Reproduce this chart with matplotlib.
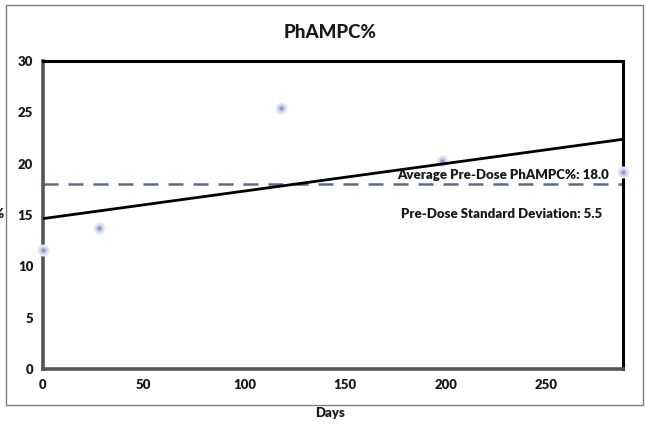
import numpy as np
import matplotlib
matplotlib.use("Agg")
import matplotlib.pyplot as plt
from matplotlib.patches import Rectangle

plt.rcParams['font.family'] = ['Lato', 'DejaVu Sans']

# Measurements
days = [0, 28, 118, 198, 288]
phampc = [11.6, 13.7, 25.4, 20.3, 19.2]
x_ticks = [0, 50, 100, 150, 200, 250]
y_ticks = [0, 5, 10, 15, 20, 25, 30]
avg_pre_dose = 18.0
sd_pre_dose = 5.5

W, H = 646, 426
fig = plt.figure(figsize=(W / 100, H / 100), dpi=100)
fig.patch.set_facecolor('white')

# outer chart frame
fig.patches.append(Rectangle((6 / W, 1 - 405 / H), (643 - 6) / W, (405 - 5) / H,
                             transform=fig.transFigure, fill=False,
                             edgecolor='#7f7f7f', linewidth=1.0))

ax = fig.add_axes([43 / W, 1 - 369 / H, (623 - 43) / W, (369 - 61) / H])
ax.set_xlim(0, max(days))
ax.set_ylim(0, 30)

# scatter points with soft glow
ax.scatter(days, phampc, s=75, color='#e6eaf5', zorder=3, clip_on=False, linewidths=0)
ax.scatter(days, phampc, s=34, color='#cbd2ea', zorder=3, clip_on=False, linewidths=0)
ax.scatter(days, phampc, s=10, color='#929ec9', zorder=4, clip_on=False, linewidths=0)

# linear trend
x = np.array(days, dtype=float)
y = np.array(phampc, dtype=float)
slope, intercept = np.polyfit(x, y, 1)
xs = np.array([0, max(days)])
ax.plot(xs, slope * xs + intercept, color='black', linewidth=2.0, zorder=5)

# pre-dose mean
ax.axhline(avg_pre_dose, color='#5b6b93', linewidth=1.8, dashes=(6, 4), zorder=2)

ax.text(0.975, 18.35, f'Average Pre-Dose PhAMPC%: {avg_pre_dose:.1f}', transform=ax.get_yaxis_transform(),
        ha='right', va='bottom', fontsize=9.5, fontweight='heavy', color='#1a1a1a', zorder=6)
ax.text(0.965, 15.05, f'Pre-Dose Standard Deviation: {sd_pre_dose:.1f}', transform=ax.get_yaxis_transform(),
        ha='right', va='center', fontsize=9.5, fontweight='heavy', color='#1a1a1a', zorder=6)

ax.set_xticks(x_ticks)
ax.set_yticks(y_ticks)
ax.tick_params(length=0, labelsize=9.5, pad=7, colors='#1a1a1a')
for lab in ax.get_xticklabels() + ax.get_yticklabels():
    lab.set_fontweight('heavy')

for side in ('top', 'right'):
    ax.spines[side].set_color('black')
    ax.spines[side].set_linewidth(2.2)
for side in ('left', 'bottom'):
    ax.spines[side].set_color('#555555')
    ax.spines[side].set_linewidth(2.6)

fig.text(330 / W, 1 - 33 / H, 'PhAMPC%', ha='center', va='center',
         fontsize=13.5, fontweight='black', color='#1a1a1a')
fig.text(330 / W, 1 - 413 / H, 'Days', ha='center', va='center',
         fontsize=9.5, fontweight='heavy', color='#1a1a1a')
fig.text(4 / W, 1 - 214 / H, 'PhAMPC%', ha='right', va='center',
         fontsize=9.5, fontweight='heavy', color='#1a1a1a')

fig.savefig('out.png', dpi=100)
